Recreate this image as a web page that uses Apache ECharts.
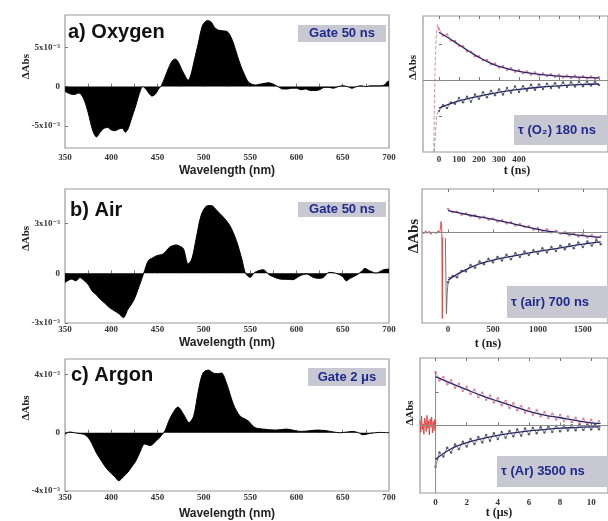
<!DOCTYPE html>
<html><head><meta charset="utf-8">
<script src="https://cdn.jsdelivr.net/npm/echarts@6.0.0/dist/echarts.min.js"></script>
<style>html,body{margin:0;padding:0;background:#fff}#c{width:608px;height:521px}</style>
</head><body><div id="c"></div>
<script>
// ---------- Spectra (ΔAbs in units of 1e-3) ----------
const aWl = [350,355,360,365,370,375,380,384,388,392,396,400,404,408,412,415,418,422,426,430,434,438,441,444,448,451,454,458,462,466,469,472,476,480,483,486,490,494,498,501,504,508,511,515,520,525,528,532,536,540,544,548,552,556,560,565,570,575,580,585,590,595,600,605,610,615,620,625,630,635,640,645,650,655,660,665,670,675,680,685,690,695,698,700];
const aVal = [-0.6,-0.9,-1.0,-0.8,-1.5,-3.3,-5.6,-6.4,-5.8,-5.3,-5.2,-5.5,-5.6,-5.4,-5.3,-5.8,-5.4,-4.0,-2.6,-1.0,0.0,-0.4,-0.9,-1.2,-0.9,-0.3,0.1,1.2,2.4,3.3,3.5,3.2,2.2,1.3,0.8,1.5,3.5,5.5,7.6,8.2,8.4,8.2,7.6,7.2,7.1,7.0,6.6,5.5,4.0,2.6,1.5,0.6,0.3,0.2,0.3,0.4,0.5,0.3,0.0,-0.3,-0.3,-0.2,-0.2,-0.4,-0.3,-0.5,-0.5,-0.4,-0.1,-0.1,-0.2,0.0,0.1,0.0,-0.2,0.0,0.1,0.0,0.1,0.1,0.1,0.2,0.6,0.7];
const bWl = [350,357,362,366,370,373,376,379,384,388,393,398,403,409,413,418,424,429,435,440,445,449,456,463,470,474,478,483,487,492,497,503,508,514,521,528,535,541,545,550,555,564,571,577,582,589,596,604,611,618,624,629,635,640,645,650,654,658,665,670,674,679,686,690,694,700];
const bVal = [-0.55,-0.35,-0.45,-0.25,-0.40,-0.55,-0.75,-1.05,-1.30,-1.56,-1.80,-2.07,-2.25,-2.47,-2.68,-2.17,-1.66,-0.95,0.0,0.77,0.95,1.07,1.17,1.58,1.72,1.65,1.48,0.57,0.87,2.19,3.50,4.07,4.10,3.80,3.40,2.90,2.00,0.87,0.0,-0.24,0.06,0.22,-0.10,-0.25,-0.34,-0.36,-0.38,-0.14,-0.04,-0.24,-0.30,-0.25,0.06,0.04,-0.04,-0.20,-0.45,-0.30,-0.10,0.10,0.30,0.16,0.02,0.10,0.22,0.26];
const cWl = [350,355,360,365,370,373,377,381,384,388,392,395,400,404,408,413,418,422,426,431,436,442,449,454,458,463,469,472,478,484,489,494,499,505,510,515,519,525,532,539,548,555,564,578,589,604,612,622,632,640,647,655,661,667,672,679,690,700];
const cVal = [-0.1,0.05,0.0,-0.05,-0.1,-0.2,-0.5,-1.0,-1.4,-1.8,-2.2,-2.46,-2.8,-3.03,-3.3,-3.03,-2.7,-2.35,-2.0,-1.33,-0.77,-0.88,-0.54,-0.2,0.14,0.93,1.6,1.76,1.27,0.7,1.15,2.85,4.1,4.3,4.1,4.05,4.1,3.3,1.94,1.15,0.81,0.36,0.25,0.18,0.25,0.09,0.12,0.18,0.14,0.05,0.0,0.05,0.09,0.0,-0.14,-0.05,0.02,0.0];

const wlLabels = [350,400,450,500,550,600,650,700];
const wlTicks = [375,400,425,450,475,500,525,550,575,600,625,650,675];
const aTicks = [-5,0,5];
const bTicks = [-3,0,3];
const cTicks = [-4,0,4];

// ---------- Kinetics (arbitrary units) ----------
const o2T = [0,20,40,60,80,100,120,140,160,180,200,220,240,260,280,300,320,340,360,380,400,420,440,460,480,500,520,540,560,580,600,620,640,660,680,700,720,740,760,780,800];
const o2Pos = [1.42,1.24,1.27,1.10,1.09,0.95,0.94,0.80,0.79,0.66,0.66,0.55,0.56,0.44,0.46,0.35,0.39,0.28,0.33,0.23,0.28,0.19,0.24,0.15,0.21,0.13,0.18,0.11,0.16,0.09,0.15,0.07,0.13,0.06,0.12,0.05,0.11,0.04,0.10,0.03,0.08];
const o2Neg = [-0.86,-0.70,-0.78,-0.62,-0.66,-0.50,-0.62,-0.46,-0.60,-0.40,-0.52,-0.34,-0.48,-0.30,-0.42,-0.26,-0.40,-0.22,-0.35,-0.18,-0.33,-0.17,-0.29,-0.13,-0.27,-0.12,-0.25,-0.10,-0.22,-0.09,-0.21,-0.07,-0.19,-0.06,-0.18,-0.05,-0.17,-0.04,-0.15,-0.05,-0.14];
const o2FitT = [0,50,100,150,200,250,300,400,500,600,700,800];
const o2FitPos = [1.33,1.16,0.98,0.80,0.63,0.49,0.38,0.24,0.16,0.11,0.08,0.06];
const o2FitNeg = [-0.78,-0.67,-0.58,-0.51,-0.45,-0.39,-0.34,-0.26,-0.20,-0.16,-0.13,-0.11];
const o2SpikeT = [-26,-23,-19,-14,-8,-3,0];
const o2SpikeV = [-2.0,-0.6,0.5,1.2,1.55,1.5,1.42];
const o2NegStartT = [-24,-18,-12,-6,0];
const o2NegStartV = [-2.0,-1.5,-1.05,-0.9,-0.86];

const airT = [0,50,100,150,200,250,300,350,400,450,500,550,600,650,700,750,800,850,900,950,1000,1050,1100,1150,1200,1250,1300,1350,1400,1450,1500,1550,1600,1650,1700];
const airPos = [0.52,0.45,0.46,0.39,0.42,0.36,0.38,0.31,0.35,0.28,0.31,0.24,0.27,0.20,0.23,0.15,0.19,0.12,0.14,0.06,0.10,0.03,0.07,0.00,0.04,-0.03,0.01,-0.06,-0.02,-0.09,-0.04,-0.11,-0.06,-0.13,-0.08];
const airNeg = [-1.10,-0.96,-0.99,-0.85,-0.86,-0.72,-0.78,-0.64,-0.70,-0.58,-0.66,-0.54,-0.62,-0.49,-0.59,-0.46,-0.54,-0.42,-0.50,-0.39,-0.47,-0.35,-0.44,-0.32,-0.41,-0.29,-0.37,-0.26,-0.35,-0.22,-0.32,-0.20,-0.29,-0.17,-0.26];
const airFitT = [0,250,500,750,1000,1250,1500,1700];
const airFitPos = [0.48,0.38,0.29,0.18,0.07,-0.01,-0.07,-0.11];
const airFitNeg = [-1.05,-0.77,-0.61,-0.51,-0.42,-0.34,-0.26,-0.21];
const airPreT = [-290,-270,-250,-230,-210,-190,-170,-150,-130,-110,-95,-85,-78,-70,-64,-60];
const airPreV = [0.02,-0.03,0.04,-0.02,0.03,-0.04,0.01,0.03,-0.02,0.04,-0.01,0.08,0.24,0.12,-1.9,-0.1];
const airNegStartT = [-30,-24,-18,-10,0];
const airNegStartV = [-0.12,-1.0,-1.8,-1.35,-1.10];

const arT = [0,0.25,0.5,0.75,1,1.25,1.5,1.75,2,2.25,2.5,2.75,3,3.25,3.5,3.75,4,4.25,4.5,4.75,5,5.25,5.5,5.75,6,6.25,6.5,6.75,7,7.25,7.5,7.75,8,8.25,8.5,8.75,9,9.25,9.5,9.75,10,10.25,10.5];
const arPos = [1.58,1.33,1.44,1.22,1.34,1.12,1.24,1.02,1.15,0.93,1.06,0.84,0.97,0.76,0.89,0.68,0.81,0.60,0.73,0.52,0.66,0.45,0.58,0.38,0.51,0.32,0.45,0.27,0.40,0.22,0.35,0.18,0.31,0.13,0.27,0.10,0.23,0.06,0.20,0.03,0.17,0.00,0.13];
const arNeg = [-1.22,-0.80,-0.92,-0.66,-0.80,-0.56,-0.70,-0.48,-0.62,-0.40,-0.55,-0.34,-0.50,-0.28,-0.45,-0.23,-0.40,-0.19,-0.36,-0.16,-0.32,-0.12,-0.30,-0.09,-0.26,-0.07,-0.23,-0.05,-0.21,-0.03,-0.19,-0.01,-0.17,0.00,-0.15,0.01,-0.14,0.02,-0.13,0.02,-0.12,0.03,-0.11];
const arFitT = [0,1,2,3,4,5,6,7,8,9,10,10.6];
const arFitPos = [1.45,1.25,1.06,0.88,0.72,0.57,0.42,0.31,0.23,0.15,0.08,0.06];
const arFitNeg = [-1.0,-0.69,-0.51,-0.39,-0.29,-0.22,-0.16,-0.12,-0.08,-0.06,-0.04,-0.04];
const arPreT = [-1,-0.95,-0.9,-0.85,-0.8,-0.75,-0.7,-0.65,-0.6,-0.55,-0.5,-0.45,-0.4,-0.35,-0.3,-0.25,-0.2,-0.15,-0.1,-0.05,0];
const arPreV = [0.15,-0.20,0.28,-0.12,0.05,-0.26,0.22,0.10,-0.18,0.30,-0.08,0.14,-0.28,0.20,-0.05,0.25,-0.22,0.12,-0.15,0.18,-0.10];
const arSpikeT = [0,0];
const arSpikeV = [-2.0,1.6];

const o2Labels = [0,100,200,300,400];
const o2Ticks = [0,100,200,300,400,500,600,700,800];
const airLabels = [0,500,1000,1500];
const arLabels = [0,2,4,6,8,10];
const kinYTicks = [-1,1];

// ---------- build ----------
const zip = (x, y) => x.map((v, i) => [v, y[i]]);
const serif = "'Liberation Serif','DejaVu Serif',serif";
const sans = "'Liberation Sans','DejaVu Sans',sans-serif";
const tickCol = '#777';
const labStyle = {fontFamily: serif, fontWeight: 'bold', fontSize: 9, color: '#333'};
const pink = '#e2809a', dark = '#5a5a6a', fitCol = '#28286a', red = '#e23a3a';

const chart = echarts.init(document.getElementById('c'));

const grids = [
  {left: 65, top: 15, width: 324, height: 133},
  {left: 65, top: 189, width: 324, height: 134},
  {left: 65, top: 359, width: 324, height: 134},
  {left: 423, top: 16, width: 192, height: 136},
  {left: 422, top: 189, width: 193, height: 134},
  {left: 420, top: 358, width: 195, height: 135}
].map(g => Object.assign({show: true, borderColor: '#9a9a9a', borderWidth: 1.2, backgroundColor: 'transparent'}, g));

function specX(gi, margin, gap) {
  return {type: 'value', gridIndex: gi, min: 350, max: 700,
    axisLine: {show: false}, splitLine: {show: false},
    axisTick: {inside: true, length: 3, lineStyle: {color: tickCol}, customValues: wlTicks},
    axisLabel: Object.assign({customValues: wlLabels, margin: margin}, labStyle),
    name: 'Wavelength (nm)', nameLocation: 'middle', nameGap: gap,
    nameTextStyle: {fontFamily: sans, fontWeight: 'bold', fontSize: 12, color: '#222'}};
}
function specY(gi, min, max, ticks) {
  return {type: 'value', gridIndex: gi, min: min, max: max,
    axisLine: {show: false}, splitLine: {show: false},
    axisTick: {inside: true, length: 3, lineStyle: {color: tickCol}, customValues: ticks},
    axisLabel: Object.assign({customValues: ticks, margin: 5,
      formatter: v => v === 0 ? '0' : (v + 'x10\u207B\u00B3')}, labStyle)};
}
function kinX(gi, min, max, labels, ticks, margin, pos) {
  return {type: 'value', gridIndex: gi, min: min, max: max, position: pos || 'bottom',
    axisLine: {show: false}, splitLine: {show: false},
    axisTick: {inside: true, length: 3, lineStyle: {color: tickCol}, customValues: ticks},
    axisLabel: Object.assign({show: pos !== 'top', customValues: labels, margin: margin,
      formatter: v => String(v)}, labStyle)};
}
function kinY(gi, min, max) {
  return {type: 'value', gridIndex: gi, min: min, max: max,
    axisLine: {show: false}, splitLine: {show: false},
    axisTick: {inside: true, length: 3, lineStyle: {color: tickCol}, customValues: kinYTicks},
    axisLabel: {show: false}};
}

const xAxis = [
  specX(0, 5, 17), specX(1, 2, 14), specX(2, 2, 17),
  kinX(3, -80, 845, o2Labels, o2Ticks, 3), kinX(4, -290, 1780, airLabels, airLabels, 2), kinX(5, -1, 11.08, arLabels, arLabels, 5),
  kinX(3, -80, 845, o2Labels, o2Ticks, 3, 'top'), kinX(4, -290, 1780, airLabels, airLabels, 2, 'top'), kinX(5, -1, 11.08, arLabels, arLabels, 5, 'top')
];
const yAxis = [
  specY(0, -7.8, 9.1, aTicks), specY(1, -3, 5.1, bTicks), specY(2, -4, 5.06, cTicks),
  kinY(3, -2.0, 1.78), kinY(4, -2.0, 0.96), kinY(5, -2.0, 2.0)
];

function spec(gi, x, y) {
  return {type: 'line', xAxisIndex: gi, yAxisIndex: gi, data: zip(x, y), symbol: 'none', smooth: 0.3,
    lineStyle: {color: '#000', width: 1}, areaStyle: {color: '#000', origin: 0, opacity: 1}};
}
function noisy(gi, x, y, col) {
  return {type: 'line', xAxisIndex: gi, yAxisIndex: gi, data: zip(x, y), symbol: 'circle', symbolSize: 2.4,
    showAllSymbol: true,
    lineStyle: {color: col, width: 0.8}, itemStyle: {color: col, borderWidth: 0}, z: 2};
}
function fit(gi, x, y, zero) {
  const s = {type: 'line', xAxisIndex: gi, yAxisIndex: gi, data: zip(x, y), symbol: 'none', smooth: true,
    lineStyle: {color: fitCol, width: 1.3}, z: 4};
  if (zero) s.markLine = {silent: true, symbol: 'none', label: {show: false},
    lineStyle: {color: '#8a8a8a', width: 1, type: 'solid'}, data: [{yAxis: 0}]};
  return s;
}
function thin(gi, x, y, col, type) {
  return {type: 'line', xAxisIndex: gi, yAxisIndex: gi, data: zip(x, y), symbol: 'none',
    lineStyle: {color: col, width: 0.9, type: type || 'solid'}, z: 3};
}

const series = [
  spec(0, aWl, aVal), spec(1, bWl, bVal), spec(2, cWl, cVal),
  thin(3, o2SpikeT, o2SpikeV, pink, 'dashed'), thin(3, o2NegStartT, o2NegStartV, '#999', 'dashed'),
  noisy(3, o2T, o2Pos, pink), noisy(3, o2T, o2Neg, dark),
  fit(3, o2FitT, o2FitPos, true), fit(3, o2FitT, o2FitNeg),
  thin(4, airPreT, airPreV, red), thin(4, airNegStartT, airNegStartV, '#666'),
  noisy(4, airT, airPos, pink), noisy(4, airT, airNeg, dark),
  fit(4, airFitT, airFitPos, true), fit(4, airFitT, airFitNeg),
  thin(5, arPreT, arPreV, red), thin(5, arSpikeT, arSpikeV, '#c06060'),
  noisy(5, arT, arPos, pink), noisy(5, arT, arNeg, dark),
  fit(5, arFitT, arFitPos, true), fit(5, arFitT, arFitNeg)
];

function txt(x, y, text, font, fill, align, rot) {
  return {type: 'text', x: x, y: y, rotation: rot || 0, z: 100,
    style: {text: text, font: font, fill: fill, align: align || 'center', verticalAlign: 'middle',
      textAlign: align || 'center', textVerticalAlign: 'middle'}};
}
function box(x, y, w, h) {
  return {type: 'rect', z: 99, shape: {x: x, y: y, width: w, height: h}, style: {fill: '#c8c8d2'}};
}
const boxFont = "bold 13px 'Liberation Sans', 'DejaVu Sans', sans-serif";
const navy = '#1f2a8c';
const graphic = [
  txt(68, 32.5, 'a) Oxygen', "bold 20px 'Liberation Sans', sans-serif", '#111', 'left'),
  txt(70, 210.5, 'b) Air', "bold 20px 'Liberation Sans', sans-serif", '#111', 'left'),
  txt(71, 375.5, 'c) Argon', "bold 20px 'Liberation Sans', sans-serif", '#111', 'left'),
  box(298, 25, 88, 17), txt(342, 33.5, 'Gate 50 ns', boxFont, navy),
  box(298, 202, 88, 15), txt(342, 209.5, 'Gate 50 ns', boxFont, navy),
  box(308, 368, 78, 18), txt(347, 377, 'Gate 2 \u03BCs', boxFont, navy),
  box(514, 115, 100, 30), txt(518, 130, '\u03C4 (O\u2082) 180 ns', boxFont, navy, 'left'),
  box(507, 286, 110, 32), txt(511, 302, '\u03C4 (air) 700 ns', boxFont, navy, 'left'),
  box(497, 456, 120, 31), txt(501, 471.5, '\u03C4 (Ar) 3500 ns', boxFont, navy, 'left'),
  txt(26, 66.7, '\u0394Abs', "bold 11px 'Liberation Serif', serif", '#222', 'center', Math.PI / 2),
  txt(26, 238.5, '\u0394Abs', "bold 11px 'Liberation Serif', serif", '#222', 'center', Math.PI / 2),
  txt(26, 408, '\u0394Abs', "bold 11px 'Liberation Serif', serif", '#222', 'center', Math.PI / 2),
  txt(413, 67.5, '\u0394Abs', "bold 11px 'Liberation Serif', serif", '#222', 'center', Math.PI / 2),
  txt(414, 236, '\u0394Abs', "bold 15px 'Liberation Serif', serif", '#222', 'center', Math.PI / 2),
  txt(410, 413, '\u0394Abs', "bold 11px 'Liberation Serif', serif", '#222', 'center', Math.PI / 2),
  txt(517, 170.5, 't (ns)', "bold 12px 'Liberation Serif', serif", '#222'),
  txt(488, 344, 't (ns)', "bold 12px 'Liberation Serif', serif", '#222'),
  txt(499, 513, 't (\u03BCs)', "bold 12px 'Liberation Serif', serif", '#222')
];

chart.setOption({animation: false, backgroundColor: '#fff', grid: grids, xAxis: xAxis, yAxis: yAxis, series: series, graphic: graphic});
</script></body></html>
